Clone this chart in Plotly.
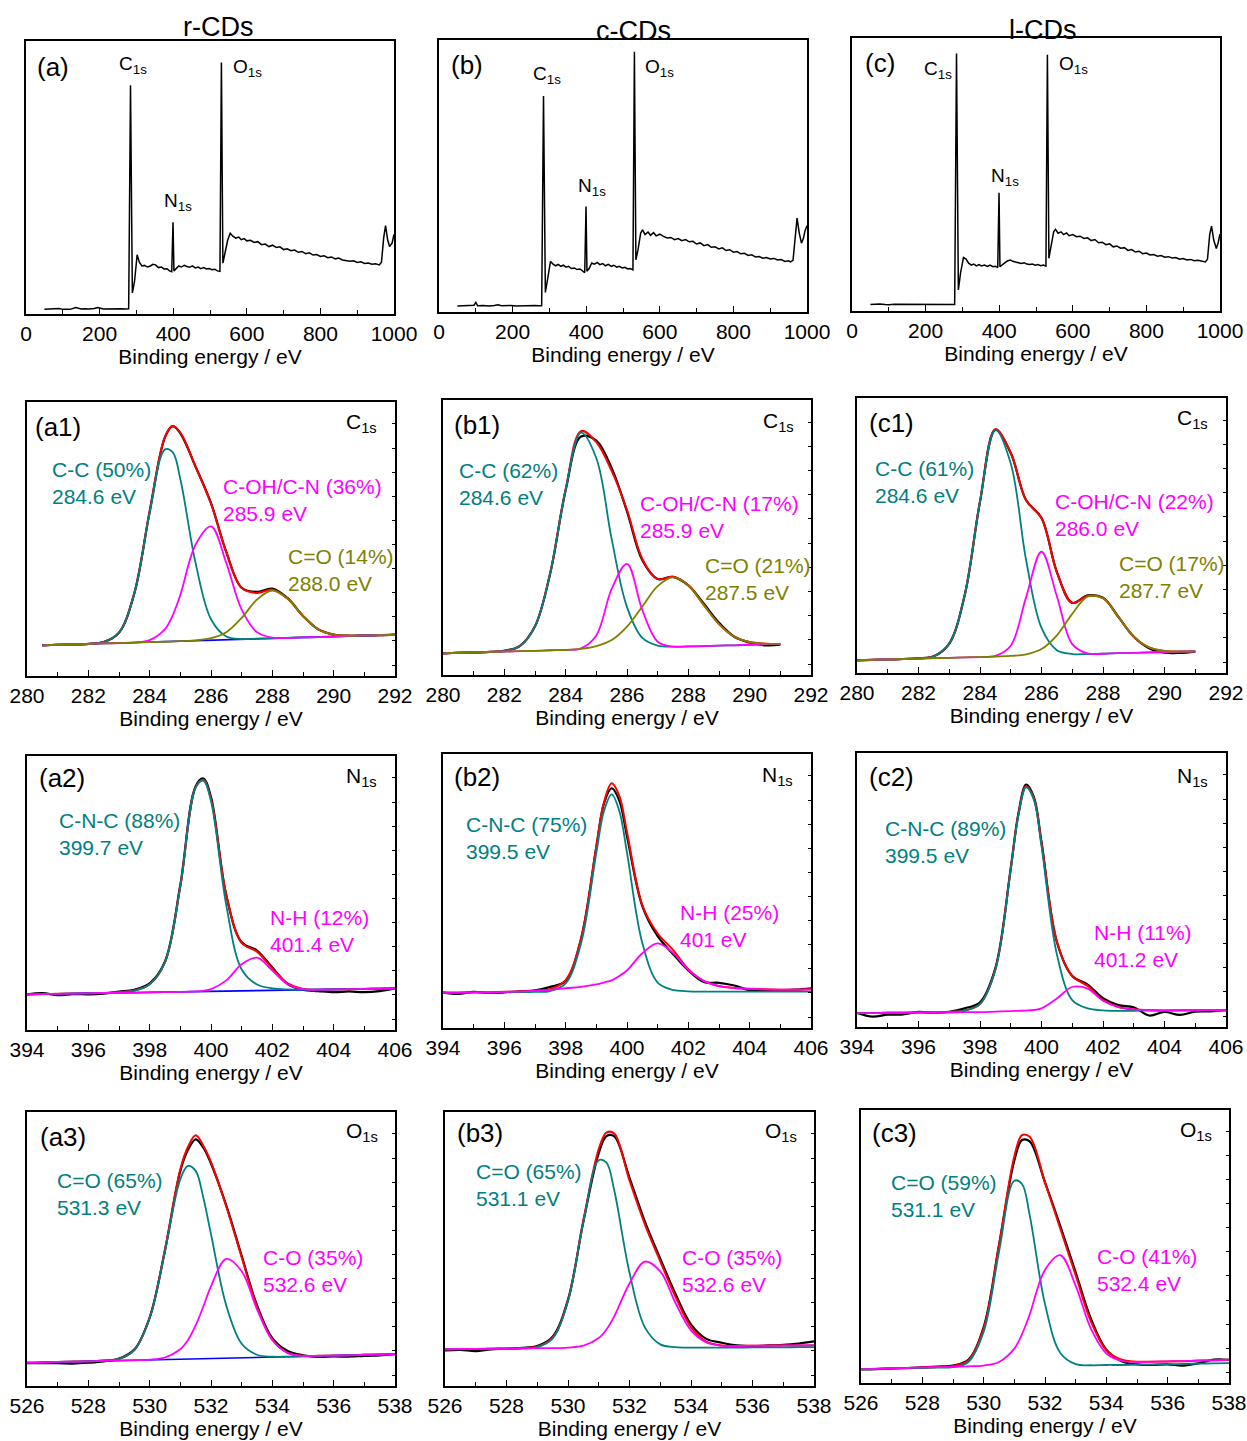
import plotly.graph_objects as go

FONT = "Liberation Sans, Arial, sans-serif"
TEAL = "#008080"
MAG = "#FF00FF"
OLIVE = "#808000"
RED = "#FF0000"
BLUE = "#0000FF"

SAMPLES = ["r-CDs", "c-CDs", "l-CDs"]
AXIS_TITLE = "Binding energy / eV"

# ---------------- survey spectra (normalised intensity) ----------------
SURVEY_R_X = [50, 60, 70, 80, 90, 100, 110, 120, 135, 150,
              160, 170, 185, 195, 210, 225, 240, 250, 260, 270,
              279, 284, 289, 295, 302, 308, 315, 322, 330, 338,
              345, 352, 360, 368, 375, 383, 390, 396, 399.5, 402,
              408, 415, 422, 430, 437, 445, 452, 460, 468, 475,
              483, 490, 498, 505, 513, 520, 527, 531, 535, 540,
              548, 555, 562, 570, 578, 585, 593, 600, 610, 620,
              630, 640, 650, 660, 670, 680, 690, 700, 710, 720,
              730, 740, 750, 760, 770, 780, 790, 800, 810, 820,
              830, 840, 850, 860, 870, 880, 890, 900, 910, 920,
              930, 940, 950, 960, 966, 972, 977, 983, 988, 995,
              1000]
SURVEY_R_Y = [.017, .018, .017, .019, .020, .017, .018, .017, .024, .018,
              .019, .018, .020, .024, .018, .019, .020, .018, .019, .018,
              .019, .838, .077, .12, .217, .19, .176, .178, .172, .176,
              .182, .18, .17, .172, .165, .166, .158, .155, .336, .158,
              .165, .176, .172, .178, .174, .171, .176, .169, .172, .166,
              .170, .165, .167, .162, .164, .158, .156, .921, .186, .22,
              .27, .296, .285, .278, .282, .272, .276, .268, .270, .262,
              .265, .254, .256, .247, .252, .244, .246, .236, .239, .232,
              .234, .226, .229, .221, .224, .216, .218, .211, .213, .206,
              .209, .202, .205, .198, .196, .193, .195, .189, .191, .185,
              .187, .182, .184, .180, .19, .28, .324, .27, .247, .26,
              .292]

SURVEY_C_X = [50, 60, 70, 80, 95, 100, 105, 120, 135, 150,
              160, 170, 185, 195, 210, 225, 240, 250, 260, 270,
              279, 284, 289, 295, 303, 310, 317, 324, 331, 338,
              345, 352, 360, 368, 375, 383, 390, 396, 399.5, 402,
              408, 415, 422, 430, 437, 445, 452, 460, 468, 475,
              483, 490, 498, 505, 513, 520, 527, 531, 535, 541,
              548, 553, 560, 568, 575, 583, 590, 600, 610, 620,
              630, 640, 650, 660, 670, 680, 690, 700, 710, 720,
              730, 740, 750, 760, 770, 780, 790, 800, 810, 820,
              830, 840, 850, 860, 870, 880, 890, 900, 910, 920,
              930, 940, 950, 955, 962, 968, 973, 979, 985, 990,
              995, 1000]
SURVEY_C_Y = [.022, .023, .022, .024, .025, .035, .023, .024, .022, .024,
              .027, .023, .024, .024, .022, .023, .022, .023, .024, .023,
              .023, .794, .072, .12, .186, .176, .170, .175, .168, .172,
              .165, .168, .160, .162, .156, .158, .150, .145, .388, .150,
              .160, .180, .176, .182, .174, .178, .170, .175, .168, .172,
              .165, .168, .162, .164, .158, .160, .155, .957, .192, .23,
              .29, .302, .285, .294, .282, .292, .280, .286, .278, .272,
              .274, .266, .270, .262, .266, .258, .260, .250, .254, .244,
              .248, .238, .240, .232, .236, .226, .229, .220, .222, .214,
              .216, .208, .210, .202, .204, .198, .200, .195, .197, .191,
              .193, .186, .188, .184, .19, .28, .345, .29, .253, .27,
              .30, .317]

SURVEY_L_X = [50, 60, 75, 90, 100, 115, 125, 140, 150, 165,
              175, 190, 200, 215, 230, 245, 255, 265, 272, 279,
              284, 289, 295, 303, 310, 317, 324, 331, 338, 345,
              352, 360, 368, 375, 383, 390, 396, 399.5, 402, 408,
              415, 422, 430, 437, 445, 452, 460, 468, 475, 483,
              490, 498, 505, 513, 520, 527, 531, 535, 541, 548,
              553, 560, 568, 575, 583, 590, 600, 610, 620, 630,
              640, 650, 660, 670, 680, 690, 700, 710, 720, 730,
              740, 750, 760, 770, 780, 790, 800, 810, 820, 830,
              840, 850, 860, 870, 880, 890, 900, 910, 920, 930,
              940, 950, 960, 966, 972, 977, 983, 990, 995, 1000]
SURVEY_L_Y = [.024, .025, .026, .024, .023, .025, .025, .023, .023, .024,
              .024, .023, .023, .024, .025, .023, .023, .024, .023, .024,
              .943, .077, .14, .196, .19, .175, .168, .172, .165, .170,
              .165, .168, .163, .168, .162, .164, .159, .433, .162, .170,
              .176, .183, .187, .182, .180, .176, .174, .177, .172, .170,
              .172, .168, .170, .166, .168, .164, .939, .193, .24, .29,
              .299, .285, .290, .280, .286, .276, .280, .272, .274, .266,
              .268, .258, .262, .250, .252, .243, .246, .235, .238, .230,
              .232, .222, .225, .216, .219, .210, .212, .205, .207, .201,
              .203, .197, .199, .194, .196, .190, .192, .187, .189, .184,
              .186, .182, .180, .19, .28, .311, .26, .229, .25, .282]

# ---------------- C 1s ----------------
C1S_X_R = [280.5, 281, 281.5, 282, 282.5, 283, 283.5, 284, 284.5, 284.75, 285, 285.5, 286, 286.5, 287, 287.5,
           288, 288.5, 289, 289.5, 290, 290.5, 291, 291.5, 292]
C1S_RAW_R = [.112, .114, .115, .117, .124, .158, .302, .600, .872, .912, .886, .763, .631, .452, .322, .307,
             .319, .284, .219, .170, .151, .147, .148, .149, .151]
C1S_FIT_R = [.112, .114, .115, .117, .124, .158, .302, .602, .873, .912, .888, .763, .629, .452, .321, .303,
             .315, .282, .219, .170, .151, .147, .148, .149, .151]
C1S_CC_R = [.112, .114, .115, .117, .124, .158, .301, .595, .827, .817, .719, .411, .207, .144, .135, .136,
            .137, .139, .141, .142, .144, .146, .148, .149, .151]
C1S_COH_R = [.112, .114, .115, .117, .119, .120, .122, .131, .171, .221, .296, .480, .546, .412, .242, .160,
             .140, .139, .141, .142, .144, .146, .148, .149, .151]
C1S_CO_R = [.112, .114, .115, .117, .119, .120, .122, .124, .125, .126, .127, .130, .138, .160, .212, .279,
            .312, .282, .219, .170, .151, .147, .148, .149, .151]
C1S_BASE_X_R = [280.5, 292]
C1S_BASE_R = [.112, .151]

C1S_X = [280, 280.5, 281, 281.5, 282, 282.5, 283, 283.5, 284, 284.5, 285, 285.5, 286, 286.5, 287, 287.5,
         288, 288.5, 289, 289.5, 290, 290.5, 291]
C1S_RAW_C = [.079, .081, .082, .084, .088, .105, .177, .372, .672, .867, .852, .752, .595, .417, .349, .357,
             .326, .260, .190, .139, .118, .108, .110]
C1S_FIT_C = [.079, .081, .082, .084, .088, .105, .177, .372, .675, .887, .847, .742, .600, .422, .349, .357,
             .326, .255, .185, .139, .120, .114, .113]
C1S_CC_C = [.079, .081, .082, .084, .088, .105, .177, .372, .675, .881, .788, .494, .247, .135, .107, .103,
            .104, .105, .107, .108, .110, .112, .113]
C1S_COH_C = [.079, .081, .082, .084, .085, .087, .088, .090, .091, .097, .144, .313, .404, .236, .121, .103,
             .104, .105, .107, .108, .110, .112, .113]
C1S_CO_C = [.079, .081, .082, .084, .085, .087, .088, .090, .091, .095, .105, .127, .176, .249, .323, .355,
            .326, .255, .185, .139, .120, .114, .113]

C1S_RAW_L = [.046, .048, .049, .051, .053, .061, .107, .282, .623, .884, .800, .628, .564, .367, .255, .282,
             .274, .204, .132, .090, .074, .073, .078]
C1S_FIT_L = [.046, .048, .049, .051, .053, .061, .107, .282, .623, .887, .801, .628, .564, .367, .255, .280,
             .272, .204, .132, .093, .080, .078, .079]
C1S_CC_L = [.046, .048, .049, .051, .053, .061, .107, .282, .623, .885, .762, .410, .164, .083, .069, .069,
            .070, .072, .073, .075, .076, .078, .079]
C1S_COH_L = [.046, .048, .049, .051, .052, .054, .055, .057, .058, .062, .099, .276, .441, .279, .105, .071,
             .070, .072, .073, .075, .076, .078, .079]
C1S_CO_L = [.046, .048, .049, .051, .052, .054, .055, .057, .058, .060, .062, .068, .087, .137, .215, .278,
            .272, .204, .132, .093, .080, .078, .079]

# ---------------- N 1s ----------------
N1S_X_R = [394, 394.5, 395, 395.5, 396, 396.5, 397, 397.5, 398, 398.5, 399, 399.5, 399.75, 400, 400.5, 401,
           401.5, 402, 402.5, 403, 403.5, 404, 404.5, 405, 405.5, 406]
N1S_RAW_R = [.130, .135, .127, .131, .130, .133, .140, .147, .170, .250, .530, .890, .918, .850, .490, .320,
             .290, .228, .168, .147, .142, .138, .141, .138, .142, .152]
N1S_FIT_R = [.130, .131, .132, .133, .134, .135, .138, .144, .167, .248, .524, .886, .913, .844, .493, .318,
             .286, .225, .170, .150, .147, .148, .149, .150, .151, .152]
N1S_CNC_R = [.130, .131, .132, .133, .134, .135, .138, .144, .167, .248, .524, .885, .910, .836, .454, .221,
             .166, .152, .148, .147, .147, .148, .149, .150, .151, .152]
N1S_NH_R = [.130, .131, .132, .133, .134, .135, .135, .136, .137, .138, .139, .141, .143, .149, .181, .240,
            .264, .217, .167, .149, .147, .148, .149, .150, .151, .152]
N1S_BASE_X_R = [394, 406]
N1S_BASE_R = [.130, .152]

N1S_X_C = [394, 394.5, 395, 395.5, 396, 396.5, 397, 397.5, 398, 398.5, 399, 399.25, 399.5, 399.75, 400, 400.5,
           401, 401.5, 402, 402.5, 403, 403.5, 404, 404.5, 405, 405.5, 406]
N1S_RAW_C = [.130, .124, .132, .128, .130, .134, .137, .150, .172, .325, .660, .820, .875, .830, .700, .445,
             .335, .270, .210, .168, .165, .155, .138, .138, .137, .140, .145]
N1S_FIT_C = [.129, .129, .130, .130, .132, .133, .136, .142, .175, .325, .664, .824, .893, .847, .715, .448,
             .345, .285, .215, .172, .153, .146, .143, .141, .140, .140, .141]
N1S_CNC_C = [.129, .129, .130, .130, .131, .131, .132, .135, .163, .308, .639, .792, .853, .792, .640, .310,
             .166, .139, .134, .133, .133, .133, .133, .133, .133, .133, .133]
N1S_NH_C = [.129, .129, .130, .130, .132, .133, .136, .139, .145, .150, .159, .166, .174, .190, .210, .273,
            .309, .274, .212, .172, .153, .146, .143, .141, .140, .140, .141]

N1S_X_L = [394, 394.5, 395, 395.5, 396, 396.5, 397, 397.5, 398, 398.5, 399, 399.25, 399.5, 399.75, 400, 400.5,
           401, 401.5, 402, 402.5, 403, 403.5, 404, 404.5, 405, 405.5, 406]
N1S_RAW_L = [.052, .038, .045, .046, .055, .052, .055, .068, .090, .215, .580, .780, .885, .840, .675, .310,
             .186, .155, .105, .080, .072, .042, .055, .044, .056, .057, .062]
N1S_FIT_L = [.051, .051, .052, .052, .053, .053, .055, .060, .084, .210, .577, .776, .879, .836, .672, .312,
             .186, .150, .099, .073, .064, .062, .060, .061, .061, .062, .061]
N1S_CNC_L = [.051, .051, .052, .052, .053, .053, .055, .060, .084, .209, .575, .773, .875, .830, .660, .265,
             .098, .068, .061, .059, .059, .060, .060, .061, .061, .062, .061]
N1S_NH_L = [.051, .051, .052, .052, .053, .053, .053, .054, .054, .056, .058, .059, .060, .062, .068, .104,
            .146, .140, .096, .073, .064, .062, .060, .061, .061, .062, .061]

# ---------------- O 1s ----------------
O1S_X_R = [526, 526.5, 527, 527.5, 528, 528.5, 529, 529.5, 530, 530.5, 531, 531.25, 531.5, 531.75, 532, 532.5,
           533, 533.5, 534, 534.5, 535, 535.5, 536, 536.5, 537, 537.5, 538]
O1S_RAW_R = [.083, .083, .083, .082, .085, .090, .100, .133, .250, .495, .785, .862, .900, .870, .812, .658,
             .475, .295, .175, .128, .112, .106, .108, .107, .110, .112, .116]
O1S_FIT_R = [.085, .086, .088, .089, .090, .093, .099, .131, .249, .499, .791, .873, .915, .877, .817, .655,
             .470, .289, .169, .121, .110, .110, .111, .112, .114, .115, .116]
O1S_CEO_R = [.085, .086, .088, .089, .090, .093, .099, .131, .248, .492, .755, .803, .785, .687, .554, .293,
             .154, .114, .107, .107, .108, .110, .111, .112, .114, .115, .116]
O1S_CO_R = [.085, .086, .088, .089, .090, .092, .093, .094, .096, .104, .134, .168, .221, .290, .364, .464,
            .419, .280, .168, .121, .110, .110, .111, .112, .114, .115, .116]
O1S_BASE_X_R = [526, 538]
O1S_BASE_R = [.085, .116]

O1S_X_C = [526, 526.5, 527, 527.5, 528, 528.5, 529, 529.5, 530, 530.5, 531, 531.25, 531.5, 532, 532.5, 533,
           533.5, 534, 534.5, 535, 535.5, 536, 536.5, 537, 537.5, 538]
O1S_RAW_C = [.130, .132, .127, .134, .136, .139, .146, .180, .315, .600, .850, .912, .912, .760, .600, .465,
             .335, .225, .172, .158, .148, .145, .148, .150, .155, .163]
O1S_FIT_C = [.134, .135, .135, .136, .137, .138, .143, .176, .312, .605, .865, .925, .922, .750, .590, .455,
             .325, .215, .162, .148, .146, .147, .147, .148, .148, .149]
O1S_CEO_C = [.134, .135, .135, .136, .136, .137, .142, .174, .310, .597, .824, .815, .716, .414, .214, .152,
             .142, .140, .140, .140, .140, .141, .141, .141, .142, .142]
O1S_CO_C = [.134, .135, .135, .136, .136, .137, .138, .138, .140, .147, .175, .206, .253, .374, .454, .418,
            .302, .203, .159, .147, .146, .147, .147, .148, .148, .149]

O1S_X_L = [526, 526.5, 527, 527.5, 528, 528.5, 529, 529.5, 530, 530.5, 531, 531.25, 531.5, 532, 532.5, 533,
           533.5, 534, 534.5, 535, 535.5, 536, 536.5, 537, 537.5, 538]
O1S_RAW_L = [.050, .051, .053, .055, .057, .060, .064, .085, .205, .505, .815, .890, .885, .735, .575, .405,
             .235, .122, .080, .068, .066, .068, .064, .072, .086, .085]
O1S_FIT_L = [.051, .052, .054, .055, .057, .059, .062, .082, .200, .505, .830, .908, .902, .735, .565, .395,
             .225, .120, .085, .078, .078, .079, .080, .082, .083, .085]
O1S_CEO_L = [.051, .052, .053, .054, .055, .056, .058, .077, .188, .480, .741, .729, .615, .289, .110, .069,
             .065, .066, .066, .067, .068, .069, .070, .071, .072, .073]
O1S_CO_L = [.051, .052, .054, .055, .057, .058, .059, .061, .064, .077, .126, .179, .251, .414, .468, .356,
            .198, .108, .081, .077, .078, .079, .080, .082, .083, .085]

# ---------------- labels ----------------
PANEL_TAGS = ["(a)", "(b)", "(c)", "(a1)", "(b1)", "(c1)", "(a2)", "(b2)", "(c2)", "(a3)", "(b3)", "(c3)"]
C1S_LABELS = [["C-C (50%)", "284.6 eV"], ["C-OH/C-N (36%)", "285.9 eV"], ["C=O (14%)", "288.0 eV"],
              ["C-C (62%)", "284.6 eV"], ["C-OH/C-N (17%)", "285.9 eV"], ["C=O (21%)", "287.5 eV"],
              ["C-C (61%)", "284.6 eV"], ["C-OH/C-N (22%)", "286.0 eV"], ["C=O (17%)", "287.7 eV"]]
N1S_LABELS = [["C-N-C (88%)", "399.7 eV"], ["N-H (12%)", "401.4 eV"],
              ["C-N-C (75%)", "399.5 eV"], ["N-H (25%)", "401 eV"],
              ["C-N-C (89%)", "399.5 eV"], ["N-H (11%)", "401.2 eV"]]
O1S_LABELS = [["C=O (65%)", "531.3 eV"], ["C-O (35%)", "532.6 eV"],
              ["C=O (65%)", "531.1 eV"], ["C-O (35%)", "532.6 eV"],
              ["C=O (59%)", "531.1 eV"], ["C-O (41%)", "532.4 eV"]]

# ---------------- layout geometry (pixels: left, right, top, bottom) ----------------
W, H = 1247, 1441
BOXES = [(26, 394, 41, 314), (439, 807, 40, 312), (852, 1220, 38, 311),
         (27, 395, 402, 676), (443, 811, 400, 675), (857, 1226, 398, 673),
         (27, 395, 756, 1030), (443, 811, 754, 1028), (857, 1226, 753, 1027),
         (27, 395, 1112, 1386), (445, 814, 1112, 1386), (861, 1229, 1110, 1383)]
XRANGES = [[0, 1000]] * 3 + [[280, 292]] * 3 + [[394, 406]] * 3 + [[526, 538]] * 3

fig = go.Figure()


def refs(i):
    return ("x" if i == 0 else f"x{i+1}"), ("y" if i == 0 else f"y{i+1}")


def line(i, x, y, color, width=2.0, shape="spline"):
    xr, yr = refs(i)
    fig.add_trace(go.Scatter(x=x, y=y, mode="lines", xaxis=xr, yaxis=yr, showlegend=False,
                             hoverinfo="skip", line=dict(color=color, width=width, shape=shape)))


# survey
for i, (sx, sy) in enumerate([(SURVEY_R_X, SURVEY_R_Y), (SURVEY_C_X, SURVEY_C_Y), (SURVEY_L_X, SURVEY_L_Y)]):
    line(i, sx, sy, "black", 1.5, "linear")

# C1s
c1s_sets = [(C1S_X_R, C1S_RAW_R, C1S_FIT_R, C1S_CC_R, C1S_COH_R, C1S_CO_R),
            (C1S_X, C1S_RAW_C, C1S_FIT_C, C1S_CC_C, C1S_COH_C, C1S_CO_C),
            (C1S_X, C1S_RAW_L, C1S_FIT_L, C1S_CC_L, C1S_COH_L, C1S_CO_L)]
for k, (x, raw, fit, cc, coh, co) in enumerate(c1s_sets):
    i = 3 + k
    line(i, x, raw, "black", 2.2)
    line(i, x, fit, RED, 2.0)
    if k == 0:
        line(i, C1S_BASE_X_R, C1S_BASE_R, BLUE, 1.6, "linear")
    line(i, x, cc, TEAL, 1.8)
    line(i, x, coh, MAG, 1.8)
    line(i, x, co, OLIVE, 1.8)

# N1s
n1s_sets = [(N1S_X_R, N1S_RAW_R, N1S_FIT_R, N1S_CNC_R, N1S_NH_R),
            (N1S_X_C, N1S_RAW_C, N1S_FIT_C, N1S_CNC_C, N1S_NH_C),
            (N1S_X_L, N1S_RAW_L, N1S_FIT_L, N1S_CNC_L, N1S_NH_L)]
for k, (x, raw, fit, cnc, nh) in enumerate(n1s_sets):
    i = 6 + k
    line(i, x, raw, "black", 2.2)
    line(i, x, fit, RED, 2.0)
    if k == 0:
        line(i, N1S_BASE_X_R, N1S_BASE_R, BLUE, 1.6, "linear")
    line(i, x, cnc, TEAL, 1.8)
    line(i, x, nh, MAG, 1.8)

# O1s
o1s_sets = [(O1S_X_R, O1S_RAW_R, O1S_FIT_R, O1S_CEO_R, O1S_CO_R),
            (O1S_X_C, O1S_RAW_C, O1S_FIT_C, O1S_CEO_C, O1S_CO_C),
            (O1S_X_L, O1S_RAW_L, O1S_FIT_L, O1S_CEO_L, O1S_CO_L)]
for k, (x, raw, fit, ceo, co) in enumerate(o1s_sets):
    i = 9 + k
    line(i, x, raw, "black", 2.2)
    line(i, x, fit, RED, 2.0)
    if k == 0:
        line(i, O1S_BASE_X_R, O1S_BASE_R, BLUE, 1.6, "linear")
    line(i, x, ceo, TEAL, 1.8)
    line(i, x, co, MAG, 1.8)

# axes
layout = {}
for i, (x0, x1, y0, y1) in enumerate(BOXES):
    xr, yr = refs(i)
    xname = "xaxis" if i == 0 else f"xaxis{i+1}"
    yname = "yaxis" if i == 0 else f"yaxis{i+1}"
    survey = i < 3
    layout[xname] = dict(
        domain=[x0 / W, x1 / W], range=XRANGES[i], anchor=yr, automargin=False,
        showline=True, linecolor="black", linewidth=1.6, mirror=True,
        ticks="inside", ticklen=6, tickwidth=1.2, tickcolor="black",
        tick0=XRANGES[i][0], dtick=200 if survey else 2,
        minor=dict(dtick=100 if survey else 1, ticks="inside", ticklen=4, tickwidth=1.0, tickcolor="black"),
        tickfont=dict(family=FONT, size=21, color="black"),
        title=dict(text=AXIS_TITLE, font=dict(family=FONT, size=21, color="black"), standoff=4),
        showgrid=False, zeroline=False,
    )
    layout[yname] = dict(
        domain=[1 - y1 / H, 1 - y0 / H], range=[0, 1], anchor=xr, automargin=False,
        showline=True, linecolor="black", linewidth=1.6, mirror=True,
        showticklabels=False, side="right",
        ticks="" if survey else "inside", ticklen=3, tickwidth=1.0, tickcolor="black",
        tick0=0.04, dtick=0.088,
        showgrid=False, zeroline=False,
    )

ann = []


def text(i, x, y, t, color="black", size=21):
    xr, yr = refs(i)
    ann.append(dict(x=x, y=y, xref=xr, yref=yr, text=t, showarrow=False, xanchor="left", yanchor="middle",
                    align="left", font=dict(family=FONT, size=size, color=color)))


# sample titles
for t, xc, yc in zip(SAMPLES, [218, 633, 1043], [27, 31, 30]):
    ann.append(dict(x=xc / W, y=1 - yc / H, xref="paper", yref="paper", text=t, showarrow=False,
                    xanchor="center", yanchor="middle", font=dict(family=FONT, size=27, color="black")))

# survey annotations
tag_pos = [(24, .906), (28, .908), (29, .907)]
c_pos = [(248, .912), (249, .871), (189, .883)]
n_pos = [(370, .411), (372, .461), (371, .492)]
o_pos = [(557, .900), (555, .896), (558, .901)]
for i in range(3):
    text(i, *tag_pos[i], PANEL_TAGS[i], size=26)
    text(i, *c_pos[i], "C<sub>1s</sub>", size=19)
    text(i, *n_pos[i], "N<sub>1s</sub>", size=19)
    text(i, *o_pos[i], "O<sub>1s</sub>", size=19)

# detail panels
tag_xy = [(280.2, .909), (280.28, .909), (280.31, .910),
          (394.32, .919), (394.28, .917), (394.31, .911),
          (526.37, .908), (526.33, .922), (526.29, .915)]
elem_xy = [(290.34, .923), (290.36, .921), (290.34, .922),
           (404.35, .925), (404.34, .921), (404.34, .914),
           (536.35, .926), (536.35, .928), (536.35, .924)]
elem_txt = ["C<sub>1s</sub>"] * 3 + ["N<sub>1s</sub>"] * 3 + ["O<sub>1s</sub>"] * 3
for j in range(9):
    text(3 + j, *tag_xy[j], PANEL_TAGS[3 + j], size=26)
    text(3 + j, *elem_xy[j], elem_txt[j], size=21)

c1s_pos = [[(280.75, .704), (286.33, .641), (288.44, .387)],
           [(280.47, .693), (286.37, .573), (288.49, .348)],
           [(280.53, .695), (286.36, .576), (288.47, .350)]]
for k in range(3):
    for m, col in enumerate([TEAL, MAG, OLIVE]):
        lab = C1S_LABELS[3 * k + m]
        text(3 + k, *c1s_pos[k][m], "<br>".join(lab), color=col)

n1s_pos = [[(394.97, .716), (401.85, .360)],
           [(394.69, .693), (401.67, .373)],
           [(394.84, .674), (401.64, .296)]]
for k in range(3):
    for m, col in enumerate([TEAL, MAG]):
        text(6 + k, *n1s_pos[k][m], "<br>".join(N1S_LABELS[2 * k + m]), color=col)

o1s_pos = [[(526.91, .701), (533.62, .420)],
           [(526.94, .735), (533.64, .420)],
           [(526.92, .686), (533.63, .415)]]
for k in range(3):
    for m, col in enumerate([TEAL, MAG]):
        text(9 + k, *o1s_pos[k][m], "<br>".join(O1S_LABELS[2 * k + m]), color=col)

fig.update_layout(
    width=W, height=H, autosize=False,
    margin=dict(l=0, r=0, t=0, b=0, pad=0),
    paper_bgcolor="white", plot_bgcolor="white",
    font=dict(family=FONT, color="black"),
    annotations=ann,
    **layout,
)

fig.write_html("out.html")
